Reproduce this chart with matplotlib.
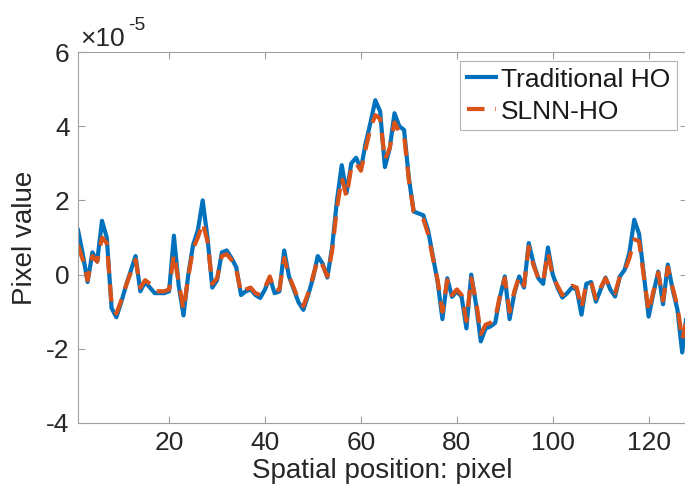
import matplotlib
matplotlib.use("Agg")
import matplotlib.pyplot as plt
import numpy as np
from matplotlib.ticker import FuncFormatter

# Pixel values in units of 1e-5
traditional_ho = [
    1.20, 0.55, -0.20, 0.60, 0.35, 1.45, 1.00, -0.90, -1.15, -0.75,
    -0.30, 0.10, 0.50, -0.45, -0.20, -0.35, -0.50, -0.50, -0.50, -0.45,
    1.05, -0.30, -1.10, 0.00, 0.80, 1.20, 2.00, 1.00, -0.35, -0.15,
    0.60, 0.65, 0.45, 0.20, -0.55, -0.45, -0.40, -0.55, -0.63, -0.40,
    -0.08, -0.50, -0.45, 0.65, -0.05, -0.40, -0.75, -0.95, -0.55, -0.10,
    0.50, 0.30, -0.08, 0.75, 2.00, 2.95, 2.20, 3.00, 3.15, 2.85,
    3.55, 4.10, 4.70, 4.40, 2.90, 3.40, 4.35, 4.00, 3.90, 2.60,
    1.70, 1.65, 1.60, 1.20, 0.50, -0.20, -1.20, -0.10, -0.60, -0.45,
    -0.60, -1.45, 0.00, -0.80, -1.80, -1.45, -1.40, -1.30, -0.60, -0.05,
    -1.20, -0.50, -0.05, -0.35, 0.85, 0.30, -0.10, -0.25, 0.73, 0.00,
    -0.35, -0.62, -0.50, -0.35, -0.40, -1.08, -0.25, -0.20, -0.73, -0.40,
    -0.08, -0.40, -0.59, -0.05, 0.13, 0.60, 1.48, 1.10, 0.00, -1.13,
    -0.50, 0.08, -0.80, 0.27, -0.40, -0.94, -2.10, -1.00,
]
slnn_ho = [
    0.80, 0.40, -0.15, 0.50, 0.35, 1.00, 0.85, -0.80, -1.05, -0.70,
    -0.30, 0.05, 0.40, -0.35, -0.15, -0.25, -0.45, -0.45, -0.45, -0.40,
    0.55, -0.20, -0.95, -0.05, 0.70, 1.00, 1.40, 0.90, -0.25, -0.10,
    0.50, 0.55, 0.40, 0.15, -0.50, -0.40, -0.35, -0.50, -0.55, -0.35,
    -0.05, -0.45, -0.40, 0.45, -0.05, -0.35, -0.70, -0.85, -0.50, -0.05,
    0.40, 0.25, -0.05, 0.65, 1.80, 2.60, 2.10, 2.90, 3.00, 2.80,
    3.40, 3.95, 4.30, 4.20, 3.10, 3.40, 4.10, 3.85, 3.75, 2.55,
    1.70, 1.60, 1.50, 1.10, 0.45, -0.15, -1.00, -0.15, -0.55, -0.40,
    -0.55, -1.25, -0.10, -0.70, -1.60, -1.35, -1.30, -1.20, -0.55, -0.10,
    -1.00, -0.45, -0.05, -0.30, 0.75, 0.25, -0.10, -0.20, 0.60, -0.05,
    -0.30, -0.55, -0.45, -0.30, -0.35, -0.90, -0.25, -0.20, -0.65, -0.35,
    -0.10, -0.35, -0.50, -0.05, 0.10, 0.45, 0.95, 0.90, -0.05, -1.00,
    -0.45, 0.05, -0.70, 0.20, -0.35, -0.85, -1.75, -1.20,
]
positions = np.arange(1, len(traditional_ho) + 1)
x_ticks = [20, 40, 60, 80, 100, 120]
y_ticks = [-4, -2, 0, 2, 4, 6]

plt.rcParams['font.family'] = ['Liberation Sans', 'DejaVu Sans']
W, H = 685, 499
fig = plt.figure(figsize=(W / 100, H / 100), dpi=100)
left, right, top, bottom = 78, 687, 52, 423
ax = fig.add_axes([left / W, 1 - bottom / H, (right - left) / W, (bottom - top) / H])

blue = (0.0, 0.447, 0.741)
orange = (0.85, 0.325, 0.098)
scale = 1e-5
ax.plot(positions, np.array(traditional_ho) * scale, color=blue, lw=3.0,
        label='Traditional HO', solid_joinstyle='round')
ax.plot(positions, np.array(slnn_ho) * scale, color=orange, lw=3.0,
        ls=(0, (4.2, 2.6)), label='SLNN-HO')

ax.set_xlim(1, 128)
ax.set_ylim(-4 * scale, 6 * scale)
ax.set_xticks(x_ticks)
ax.set_yticks([v * scale for v in y_ticks])
ax.yaxis.set_major_formatter(FuncFormatter(lambda v, p: f"{v / scale:.0f}"))

axis_col = '#a0a0a0'
for s in ax.spines.values():
    s.set_color(axis_col)
    s.set_linewidth(0.8)
ax.tick_params(direction='in', length=5, width=0.8, color=axis_col,
               labelsize=19, labelcolor='#262626', top=True, right=True, pad=6)

ax.set_xlabel('Spatial position: pixel', fontsize=20, color='#262626', labelpad=2)
ax.set_ylabel('Pixel value', fontsize=20, color='#262626', labelpad=6)

fig.text(80 / W, 1 - 46 / H, '×10', fontsize=19, color='#262626', ha='left', va='baseline')
fig.text(128 / W, 1 - 30 / H, '-5', fontsize=14, color='#262626', ha='left', va='baseline')

leg = ax.legend(loc='upper right', bbox_to_anchor=(677 / W, 1 - 61 / H),
                bbox_transform=fig.transFigure, fontsize=19, frameon=True,
                fancybox=False, edgecolor=axis_col, handlelength=1.1,
                handletextpad=0.2, borderpad=0.25, labelspacing=0.3,
                borderaxespad=0)
leg.get_frame().set_linewidth(0.8)
for t in leg.get_texts():
    t.set_color('#1a1a1a')

fig.savefig('out.png', dpi=100)
